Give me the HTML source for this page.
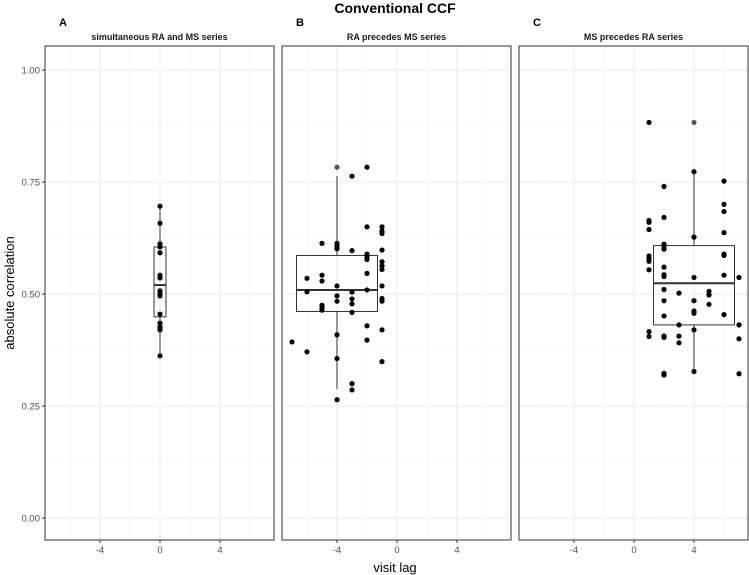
<!DOCTYPE html>
<html><head><meta charset="utf-8"><style>
body{margin:0;background:#fff;font-family:"Liberation Sans",sans-serif}
svg{display:block}
</style></head><body>
<svg id="chart" width="749" height="575" xmlns="http://www.w3.org/2000/svg">
<text x="395" y="13" text-anchor="middle" font-size="14" font-weight="bold">Conventional CCF</text>
<text x="395" y="572" text-anchor="middle" font-size="13">visit lag</text>
<text transform="translate(14,293) rotate(-90)" text-anchor="middle" font-size="13">absolute correlation</text>
</svg>
<script>
const panelTitles = ["simultaneous RA and MS series","RA precedes MS series","MS precedes RA series"];
const panelLetters = ["A","B","C"];
const boxCenters = [0,-4,4];
const yTicks = [0,0.25,0.5,0.75,1];
const yTickLabels = ["0.00","0.25","0.50","0.75","1.00"];
const xTicks = [-4,0,4];
// box statistics per panel
const boxQ1 = [0.449,0.461,0.431];
const boxMedian = [0.520,0.509,0.524];
const boxQ3 = [0.605,0.586,0.608];
const whiskerLow = [0.362,0.288,0.327];
const whiskerHigh = [0.696,0.763,0.773];
const boxOutliers = [[],[0.783],[0.883]];
// lags per panel
const lagsA = [0];
const valsA = [[0.696,0.658,0.612,0.605,0.592,0.542,0.536,0.507,0.502,0.496,0.455,0.435,0.426,0.420,0.362]];
const lagsB = [-7,-6,-5,-4,-3,-2,-1];
const valsB = [
 [0.393],
 [0.535,0.505,0.371],
 [0.613,0.542,0.529,0.475,0.469,0.464],
 [0.613,0.607,0.601,0.518,0.496,0.484,0.409,0.356,0.264],
 [0.763,0.597,0.504,0.489,0.478,0.459,0.300,0.286],
 [0.783,0.650,0.589,0.583,0.577,0.546,0.509,0.429,0.397],
 [0.650,0.641,0.635,0.598,0.572,0.563,0.555,0.518,0.490,0.484,0.420,0.349]
];
const lagsC = [1,2,3,4,5,6,7];
const valsC = [
 [0.883,0.664,0.660,0.644,0.585,0.579,0.573,0.554,0.416,0.405],
 [0.740,0.671,0.611,0.606,0.600,0.560,0.543,0.539,0.510,0.485,0.451,0.406,0.403,0.323,0.319],
 [0.502,0.431,0.406,0.391],
 [0.773,0.627,0.537,0.485,0.462,0.457,0.420,0.327],
 [0.506,0.498,0.477],
 [0.752,0.700,0.684,0.637,0.589,0.586,0.542,0.454],
 [0.537,0.431,0.400,0.322]
];
const panelLags=[lagsA,lagsB,lagsC], panelVals=[valsA,valsB,valsC];

const NS="http://www.w3.org/2000/svg";
const svg=document.getElementById('chart');
const PW=229, PT=46, PB=540, lefts=[45,282,519];
const yS=v=>518-448*v;
function mk(t,a,p){const e=document.createElementNS(NS,t);for(const k in a)e.setAttribute(k,a[k]);(p||svg).appendChild(e);return e;}

for(let i=0;i<3;i++){
  const L=lefts[i]; const xS=v=>L+115+15*v;
  const g=mk('g',{});
  
  
  mk('rect',{x:L,y:PT,width:PW,height:PB-PT,fill:'#fff'},g);
  for(let v=0.125;v<1.1;v+=0.25) mk('line',{x1:L,x2:L+PW,y1:yS(v),y2:yS(v),stroke:'#f5f5f5','stroke-width':0.6},g);
  for(const v of [-6,-2,2,6]) mk('line',{x1:xS(v),x2:xS(v),y1:PT,y2:PB,stroke:'#f5f5f5','stroke-width':0.6},g);
  yTicks.forEach(v=>mk('line',{x1:L,x2:L+PW,y1:yS(v),y2:yS(v),stroke:'#ebebeb','stroke-width':1.1},g));
  xTicks.forEach((v,j)=>{
    mk('line',{x1:xS(v),x2:xS(v),y1:PT,y2:PB,stroke:'#ebebeb','stroke-width':1.1},g);
    mk('line',{x1:xS(v),x2:xS(v),y1:PB,y2:PB+3,stroke:'#333'},g);
    const t=mk('text',{x:xS(v),y:PB+13,'text-anchor':'middle','font-size':9.5,fill:'#4d4d4d'},g);
    t.textContent=String(v);
    
    
  });
  if(i===0) yTicks.forEach((v,j)=>{
    mk('line',{x1:L-3,x2:L,y1:yS(v),y2:yS(v),stroke:'#333'},g);
    const t=mk('text',{x:L-5,y:yS(v)+3.5,'text-anchor':'end','font-size':9.5,fill:'#4d4d4d'},g);
    t.textContent=yTickLabels[j];
    
    
  });
  const st=mk('text',{x:L+PW/2,y:PT-6,'text-anchor':'middle','font-size':9,'font-weight':'bold',fill:'#1a1a1a'},g);
  st.textContent=panelTitles[i];
  
  
  const lt=mk('text',{x:L+14,y:26,'font-size':11,'font-weight':'bold'},g);
  lt.textContent=panelLetters[i];
  
  
  // boxplot
  const q1=boxQ1[i],md=boxMedian[i],q3=boxQ3[i],lo=whiskerLow[i],hi=whiskerHigh[i];
  const c=xS(boxCenters[i]); const hw=i===0?6:40.5;
  mk('line',{x1:c,x2:c,y1:yS(hi),y2:yS(q3),stroke:'#333','stroke-width':1},g);
  mk('line',{x1:c,x2:c,y1:yS(q1),y2:yS(lo),stroke:'#333','stroke-width':1},g);
  const bx=mk('rect',{x:c-hw,y:yS(q3),width:2*hw,height:yS(q1)-yS(q3),fill:'none',stroke:'#333','stroke-width':1},g);
  
  
  mk('line',{x1:c-hw,x2:c+hw,y1:yS(md),y2:yS(md),stroke:'#333','stroke-width':2},g);
  boxOutliers[i].forEach(v=>{
    const o=mk('circle',{cx:c,cy:yS(v),r:2.6,fill:'#555'},g);
    
    
  });
  panelLags[i].forEach((lag,k)=>panelVals[i][k].forEach(v=>{
    const p=mk('circle',{cx:xS(lag),cy:yS(v),r:2.6,fill:'#000'},g);
    
    
  }));
  mk('rect',{x:L,y:PT,width:PW,height:PB-PT,fill:'none',stroke:'#333','stroke-width':1},g);
}
</script>
</body></html>
